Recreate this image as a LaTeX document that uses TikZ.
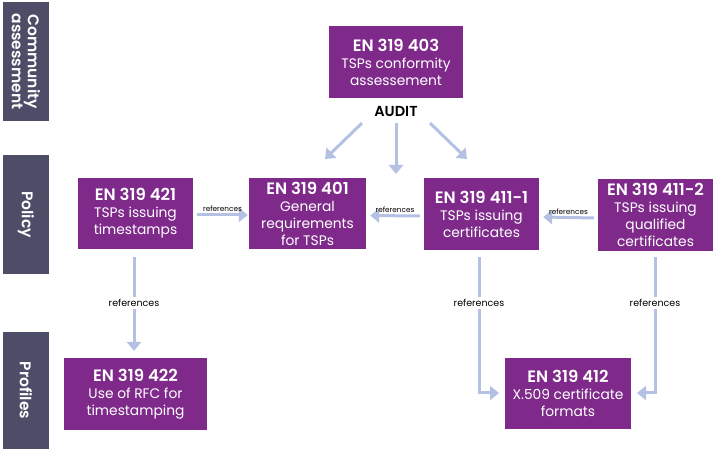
\documentclass[tikz,border=0pt]{standalone}
\usepackage{fontspec}
\setmainfont{Poppins}[BoldFont={Poppins SemiBold}]
\usetikzlibrary{arrows.meta}
\definecolor{tsppurple}{RGB}{127,42,139}
\definecolor{barslate}{RGB}{77,77,104}
\definecolor{arrblue}{RGB}{180,193,227}
\newcommand{\hd}[1]{{\bfseries\fontsize{16.5}{17}\selectfont #1}}
\begin{document}
\begin{tikzpicture}[x=1pt,y=-1pt,
  box/.style={fill=tsppurple,text=white,align=center,inner sep=0pt,
    font=\fontsize{13.8}{17}\selectfont},
  bar/.style={fill=barslate},
  barlabel/.style={text=white,align=center,rotate=-90,
    font=\fontsize{15.5}{16}\selectfont\bfseries},
  arr/.style={draw=arrblue,line width=3pt,
    -{Triangle[width=14pt,length=9pt]}},
  reflab/.style={font=\fontsize{7.3}{8}\selectfont,text=black,inner sep=1pt},
  reflabv/.style={font=\fontsize{9.5}{10}\selectfont,text=black,fill=white,inner sep=2pt}]
\useasboundingbox (0,0) rectangle (713,449);
% side bars
\fill[bar] (3,2) rectangle (49,121);
\fill[bar] (3,155) rectangle (49,274);
\fill[bar] (3,332) rectangle (49,449);
\node[barlabel] (lcomm) at (26,61.5) {Community\\assessment};
\node[barlabel] (lpol) at (26,214.5) {Policy};
\node[barlabel] (lprof) at (26,390.5) {Profiles};
% boxes
\node[box,minimum width=134pt,minimum height=72pt] (b403) at (396,62)
  {\hd{EN 319 403}\\TSPs conformity\\assessement};
\node[font=\fontsize{14.5}{16}\selectfont\bfseries] (audit) at (396,111) {AUDIT};
\node[box,minimum width=115pt,minimum height=71pt] (b421) at (135.5,213.5)
  {\hd{EN 319 421}\\TSPs issuing\\timestamps};
\node[box,minimum width=117pt,minimum height=71pt] (b401) at (307.5,213.5)
  {\hd{EN 319 401}\\General\\requirements\\for TSPs};
\node[box,minimum width=115pt,minimum height=72pt] (b4111) at (481.5,214)
  {\hd{EN 319 411-1}\\TSPs issuing\\certificates};
\node[box,minimum width=115pt,minimum height=72pt] (b4112) at (655.5,215)
  {\hd{EN 319 411-2}\\TSPs issuing\\qualified\\certificates};
\node[box,minimum width=126pt,minimum height=71pt] (b412) at (568,393.5)
  {\hd{EN 319 412}\\X.509 certificate\\formats};
\node[box,minimum width=143pt,minimum height=72pt] (b422) at (135.5,394)
  {\hd{EN 319 422}\\Use of RFC for\\timestamping};
% audit arrows
\coordinate (a1s) at (362,123);
\coordinate (a1e) at (325,159);
\coordinate (a2s) at (396,123);
\coordinate (a2e) at (396,174);
\coordinate (a3s) at (430,123);
\coordinate (a3e) at (467,159);
\draw[arr] (a1s) -- (a1e);
\draw[arr] (a2s) -- (a2e);
\draw[arr] (a3s) -- (a3e);
% horizontal references
\draw[arr] ([xshift=4pt,yshift=-1.5pt]b421.east) -- node[reflab,above=0.5pt] (r1) {references} ([xshift=-1pt,yshift=-1.5pt]b401.west);
\draw[arr] ([xshift=-4pt,yshift=-2pt]b4111.west) -- node[reflab,above=0.5pt] (r2) {references} ([xshift=4pt,yshift=-2pt]b401.east);
\draw[arr] ([xshift=-4pt,yshift=-3pt]b4112.west) -- node[reflab,above=0.5pt] (r3) {references} ([xshift=4pt,yshift=-3pt]b4111.east);
% vertical references
\coordinate (v1s) at (134,257);
\coordinate (v1e) at (134,351);
\draw[arr] (v1s) -- (v1e);
\node[reflabv] (r4) at (134,303) {references};
\coordinate (v2s) at (479,257);
\coordinate (v2e) at (499,393);
\draw[arr] (v2s) |- (v2e);
\node[reflabv] (r5) at (479,303) {references};
\coordinate (v3s) at (655,257);
\coordinate (v3e) at (637,393);
\draw[arr] (v3s) |- (v3e);
\node[reflabv] (r6) at (655,303) {references};
\end{tikzpicture}
\end{document}
